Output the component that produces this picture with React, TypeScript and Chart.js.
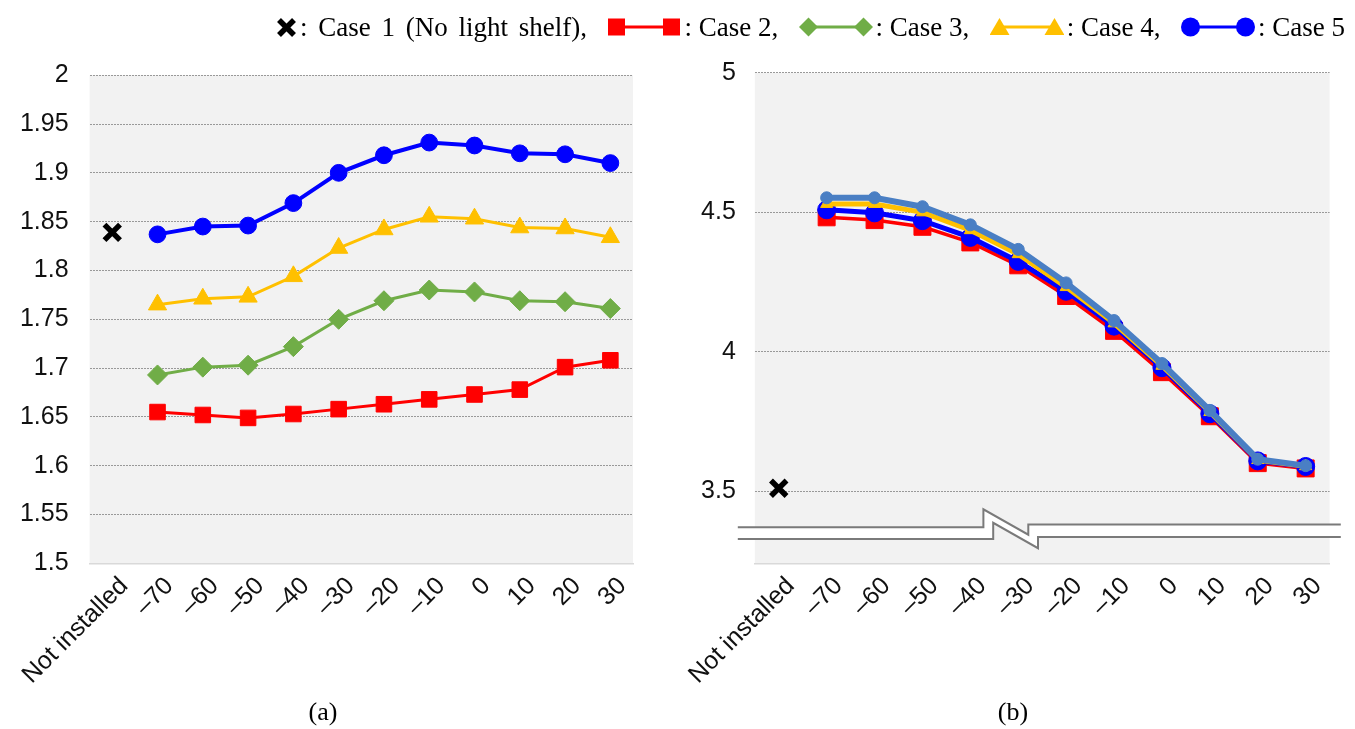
import React, { useEffect, useRef } from "react";
import { Chart, registerables } from "chart.js";
Chart.register(...registerables);

// ---------- data ----------
const categories = ["Not installed", "–70", "–60", "–50", "–40", "–30", "–20", "–10", "0", "10", "20", "30"];

// (a)
const aCase1 = [1.839];
const aCase2 = [1.655, 1.652, 1.649, 1.653, 1.658, 1.663, 1.668, 1.673, 1.678, 1.701, 1.708];
const aCase3 = [1.693, 1.701, 1.703, 1.722, 1.75, 1.769, 1.78, 1.778, 1.769, 1.768, 1.761];
const aCase4 = [1.765, 1.771, 1.773, 1.794, 1.823, 1.842, 1.855, 1.853, 1.844, 1.843, 1.834];
const aCase5 = [1.837, 1.845, 1.846, 1.869, 1.9, 1.918, 1.931, 1.928, 1.92, 1.919, 1.91];
const aYTicks = [1.5, 1.55, 1.6, 1.65, 1.7, 1.75, 1.8, 1.85, 1.9, 1.95, 2];

// (b)
const bCase1 = [3.511];
const bCase2 = [4.482, 4.472, 4.448, 4.392, 4.31, 4.2, 4.075, 3.927, 3.769, 3.601, 3.582];
const bCase3 = [4.509, 4.498, 4.47, 4.41, 4.324, 4.217, 4.092, 3.943, 3.778, 3.609, 3.589];
const bCase4 = [4.53, 4.53, 4.5, 4.436, 4.35, 4.232, 4.102, 3.95, 3.784, 3.612, 3.59];
const bCase5 = [4.509, 4.498, 4.47, 4.41, 4.324, 4.217, 4.092, 3.943, 3.778, 3.609, 3.589];
const bCase5Top = [4.552, 4.552, 4.52, 4.455, 4.367, 4.247, 4.112, 3.958, 3.79, 3.615, 3.592];
const bYTicks = [3.5, 4, 4.5, 5];

// ---------- styles ----------
const RED = "#ff0000";
const GREEN = "#70ad47";
const YELLOW = "#ffc000";
const BLUE = "#0000ff";
const STEEL = "#4a7fc4";
const SANS = "'Liberation Sans', Arial, sans-serif";
const SERIF = "'Liberation Serif', 'Times New Roman', serif";

const pad = (v: number[]) => [null, ...v];
const first = (v: number[]) => [v[0], ...Array(11).fill(null)];

const bgPlugin = {
  id: "plotBg",
  beforeDraw(chart: any) {
    const { ctx, chartArea: a } = chart;
    ctx.save();
    ctx.fillStyle = "#f2f2f2";
    ctx.fillRect(a.left, a.top, a.right - a.left, a.bottom - a.top);
    ctx.restore();
  },
};

const breakPlugin = {
  id: "axisBreak",
  afterDraw(chart: any) {
    const { ctx, chartArea: a } = chart;
    const L = a.left, B = a.bottom;
    const up = [[-17, -36.2], [228.6, -36.2], [228.6, -54.1], [273.5, -28.7], [273.5, -38.9], [586, -38.9]];
    const lo = [[-17, -24.4], [238.4, -24.4], [238.4, -40.6], [283.2, -15.2], [283.2, -26.4], [586, -26.4]];
    ctx.save();
    ctx.beginPath();
    up.forEach(([x, y], i) => (i ? ctx.lineTo(L + x, B + y) : ctx.moveTo(L + x, B + y)));
    [...lo].reverse().forEach(([x, y]) => ctx.lineTo(L + x, B + y));
    ctx.closePath();
    ctx.fillStyle = "#ffffff";
    ctx.fill();
    ctx.strokeStyle = "#7a7a7a";
    ctx.lineWidth = 2;
    [up, lo].forEach((pts) => {
      ctx.beginPath();
      pts.forEach(([x, y], i) => (i ? ctx.lineTo(L + x, B + y) : ctx.moveTo(L + x, B + y)));
      ctx.stroke();
    });
    ctx.restore();
  },
};

function line(label: string, data: any[], color: string, style: string, radius: number, width: number) {
  return {
    label,
    data,
    borderColor: color,
    backgroundColor: color,
    borderWidth: width,
    pointStyle: style,
    pointRadius: radius,
    pointHoverRadius: radius,
    pointBackgroundColor: color,
    pointBorderColor: color,
    pointBorderWidth: 1,
    spanGaps: false,
    tension: 0,
  };
}

function crossSet(data: any[]) {
  return {
    label: "Case 1",
    data,
    showLine: false,
    borderColor: "#000",
    backgroundColor: "#000",
    pointStyle: "crossRot",
    pointRadius: 11,
    pointHoverRadius: 11,
    pointBorderColor: "#000",
    pointBorderWidth: 5.5,
  };
}

function makeOptions(o: { min: number; max: number; ticks: number[]; yWidth: number; xHeight: number; padTop: number; padRight: number; yPad: number }) {
  return {
    responsive: false,
    animation: false,
    devicePixelRatio: 1,
    layout: { padding: { top: o.padTop, right: o.padRight, left: 0, bottom: 0 } },
    plugins: { legend: { display: false }, tooltip: { enabled: false } },
    scales: {
      x: {
        type: "category",
        offset: true,
        grid: { display: false, drawTicks: false },
        border: { display: true, color: "#d9d9d9", width: 1.5 },
        ticks: {
          autoSkip: false,
          minRotation: 45,
          maxRotation: 45,
          padding: 8,
          labelOffset: 12,
          color: "#111",
          font: { family: SANS, size: 25 },
        },
        afterFit: (s: any) => {
          s.height = o.xHeight;
          s.paddingLeft = 0;
          s.paddingRight = 0;
        },
      },
      y: {
        min: o.min,
        max: o.max,
        grid: {
          drawTicks: false,
          color: (c: any) => (c.tick && Math.abs(c.tick.value - o.min) < 1e-9 ? "rgba(0,0,0,0)" : "#999999"),
          lineWidth: 1,
        },
        border: { display: false, dash: [2, 1] },
        ticks: {
          padding: o.yPad,
          color: "#111",
          font: { family: SANS, size: 25 },
          callback: (v: any) => String(v),
        },
        afterBuildTicks: (s: any) => {
          s.ticks = o.ticks.map((v) => ({ value: v }));
        },
        afterFit: (s: any) => {
          s.width = o.yWidth;
          s.paddingTop = 0;
          s.paddingBottom = 0;
        },
      },
    },
  };
}

function ChartCanvas({ config, width, height, left }: { config: () => any; width: number; height: number; left: number }) {
  const ref = useRef<HTMLCanvasElement | null>(null);
  useEffect(() => {
    if (!ref.current) return;
    const chart = new Chart(ref.current, config());
    return () => chart.destroy();
  }, []);
  return <canvas ref={ref} width={width} height={height} style={{ position: "absolute", left, top: 0, width, height }} />;
}

const cfgA = () => ({
  type: "line",
  data: {
    labels: categories,
    datasets: [
      crossSet(first(aCase1)),
      line("Case 5", pad(aCase5), BLUE, "circle", 8.4, 4),
      line("Case 4", pad(aCase4), YELLOW, "triangle", 10.5, 3),
      line("Case 3", pad(aCase3), GREEN, "rectRot", 10, 3),
      line("Case 2", pad(aCase2), RED, "rect", 11, 3),
    ],
  },
  options: makeOptions({ min: 1.5, max: 2, ticks: aYTicks, yWidth: 89.6, xHeight: 165.6, padTop: 75.2, padRight: 37, yPad: 21 }),
  plugins: [bgPlugin],
});

const cfgB = () => ({
  type: "line",
  data: {
    labels: categories,
    datasets: [
      crossSet(first(bCase1)),
      line("Case 5 (top)", pad(bCase5Top), STEEL, "circle", 6, 6),
      line("Case 4", pad(bCase4), YELLOW, "triangle", 7, 5),
      line("Case 5", pad(bCase5), BLUE, "circle", 9, 5),
      line("Case 3", pad(bCase3), GREEN, "rectRot", 8, 3),
      line("Case 2", pad(bCase2), RED, "rect", 12, 3.5),
    ],
  },
  options: makeOptions({ min: 3.2416, max: 5, ticks: bYTicks, yWidth: 84.8, xHeight: 165.6, padTop: 72.8, padRight: 25.4, yPad: 19 }),
  plugins: [bgPlugin, breakPlugin],
});

// ---------- legend icons ----------
function LineIcon({ color, shape, w }: { color: string; shape: string; w: number }) {
  const h = 22;
  const cy = h / 2;
  const m = (cx: number) => {
    if (shape === "rect") return <rect x={cx - 8.5} y={cy - 8.5} width={17} height={17} fill={color} />;
    if (shape === "diamond") return <polygon points={`${cx},${cy - 9.5} ${cx + 9.5},${cy} ${cx},${cy + 9.5} ${cx - 9.5},${cy}`} fill={color} />;
    if (shape === "triangle") return <polygon points={`${cx},${cy - 9} ${cx + 10},${cy + 8} ${cx - 10},${cy + 8}`} fill={color} />;
    return <circle cx={cx} cy={cy} r={9.5} fill={color} />;
  };
  return (
    <svg width={w} height={h} style={{ display: "block" }}>
      <line x1={9} y1={cy} x2={w - 9} y2={cy} stroke={color} strokeWidth={3} />
      {m(9.5)}
      {m(w - 9.5)}
    </svg>
  );
}

function XIcon() {
  return (
    <svg width={21} height={21} style={{ display: "block" }}>
      <line x1={3} y1={3} x2={18} y2={18} stroke="#000" strokeWidth={5.5} />
      <line x1={18} y1={3} x2={3} y2={18} stroke="#000" strokeWidth={5.5} />
    </svg>
  );
}

const legendText: React.CSSProperties = {
  fontFamily: SERIF,
  fontSize: 27,
  lineHeight: "34px",
  whiteSpace: "nowrap",
  color: "#000",
};

const group: React.CSSProperties = { display: "flex", alignItems: "center", gap: 3 };

export default function App() {
  return (
    <div style={{ position: "absolute", left: 0, top: 0, width: 1355, height: 729, background: "#fff", overflow: "hidden" }}>
      <ChartCanvas config={cfgA} width={670} height={729} left={0} />
      <ChartCanvas config={cfgB} width={685} height={729} left={670} />

      {/* legend */}
      <div style={{ position: "absolute", left: 276, width: 1069, top: 10, display: "flex", justifyContent: "space-between", alignItems: "center" }}>
        <div style={group}>
          <XIcon />
          <span style={{ ...legendText, wordSpacing: 4 }}>: Case 1 (No light shelf),</span>
        </div>
        <div style={group}>
          <LineIcon color={RED} shape="rect" w={74} />
          <span style={legendText}>: Case 2,</span>
        </div>
        <div style={group}>
          <LineIcon color={GREEN} shape="diamond" w={74} />
          <span style={legendText}>: Case 3,</span>
        </div>
        <div style={group}>
          <LineIcon color={YELLOW} shape="triangle" w={74} />
          <span style={legendText}>: Case 4,</span>
        </div>
        <div style={group}>
          <LineIcon color={BLUE} shape="circle" w={74} />
          <span style={legendText}>: Case 5</span>
        </div>
      </div>

      {/* captions */}
      <div style={{ position: "absolute", left: 283, width: 80, top: 696, textAlign: "center", fontFamily: SERIF, fontSize: 26, lineHeight: "32px" }}>(a)</div>
      <div style={{ position: "absolute", left: 973, width: 80, top: 696, textAlign: "center", fontFamily: SERIF, fontSize: 26, lineHeight: "32px" }}>(b)</div>
    </div>
  );
}
